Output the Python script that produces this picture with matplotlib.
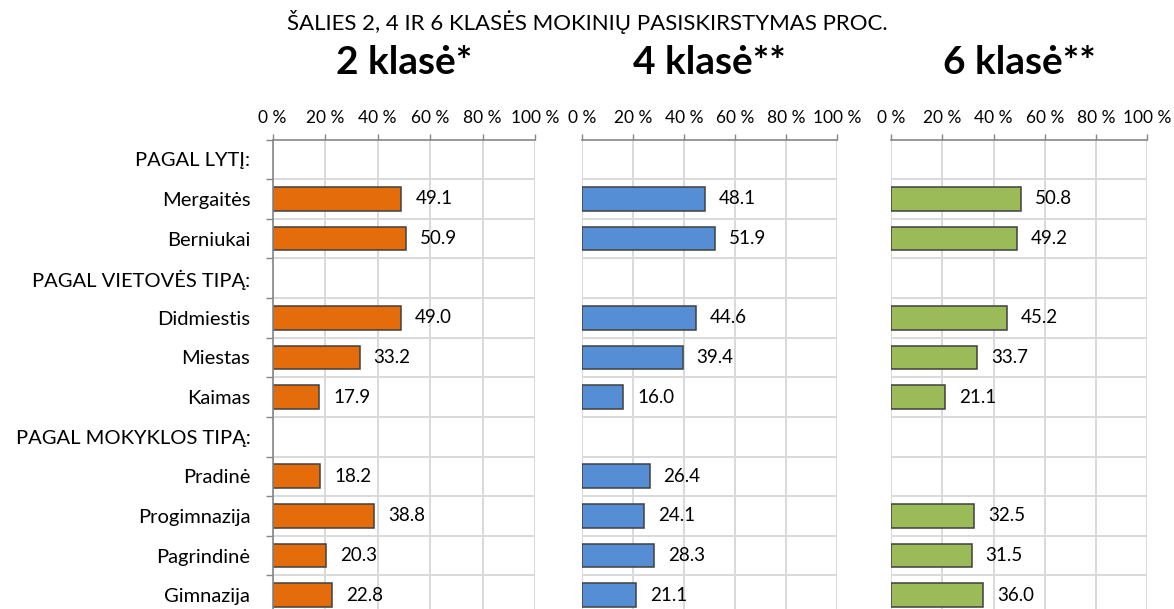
import numpy as np
import matplotlib
matplotlib.use("Agg")
import matplotlib.pyplot as plt

plt.rcParams['font.family'] = ['Lato', 'DejaVu Sans']

categories = ['PAGAL LYTĮ:', 'Mergaitės', 'Berniukai', 'PAGAL VIETOVĖS TIPĄ:',
              'Didmiestis', 'Miestas', 'Kaimas', 'PAGAL MOKYKLOS TIPĄ:',
              'Pradinė', 'Progimnazija', 'Pagrindinė', 'Gimnazija']

nan = np.nan
klase2 = [nan, 49.1, 50.9, nan, 49.0, 33.2, 17.9, nan, 18.2, 38.8, 20.3, 22.8]
klase4 = [nan, 48.1, 51.9, nan, 44.6, 39.4, 16.0, nan, 26.4, 24.1, 28.3, 21.1]
klase6 = [nan, 50.8, 49.2, nan, 45.2, 33.7, 21.1, nan, nan, 32.5, 31.5, 36.0]

panel_titles = ['2 klasė*', '4 klasė**', '6 klasė**']
colors = ['#E46C0A', '#558ED5', '#9BBB59']
xticks = [0, 20, 40, 60, 80, 100]
xticklabels = ['0 %', '20 %', '40 %', '60 %', '80 %', '100 %']

W, H = 1174, 609
fig = plt.figure(figsize=(W / 100, H / 100), dpi=100)

# panel edges in pixels (left, right)
panels = [(272.5, 535), (582.3, 837.2), (891, 1147.3)]
top_px, bot_px = 139.5, 615

fig.text(0.5, 1 - 22 / H, 'ŠALIES 2, 4 IR 6 KLASĖS MOKINIŲ PASISKIRSTYMAS PROC.',
         ha='center', va='center', fontsize=16, color='#000000')

grid_c = '#D9D9D9'
axis_c = '#868686'
y = np.arange(len(categories))
bounds = np.arange(-0.5, len(categories), 1)

for i, (vals, col, ttl) in enumerate(zip([klase2, klase4, klase6], colors, panel_titles)):
    l, r = panels[i]
    ax = fig.add_axes([l / W, 1 - bot_px / H, (r - l) / W, (bot_px - top_px) / H])
    v = np.array(vals, dtype=float)
    ok = ~np.isnan(v)

    # grid drawn by hand so it sits under the bars
    ax.vlines(xticks, -0.5, len(categories) - 0.5, colors=grid_c, linewidth=1.4, zorder=1)
    ax.hlines(bounds[1:], 0, 100, colors=grid_c, linewidth=1.4, zorder=1)

    ax.barh(y[ok], v[ok], height=0.6, color=col, edgecolor='#404040',
            linewidth=1.1, zorder=3)
    for yy, val in zip(y[ok], v[ok]):
        ax.annotate(f'{val:.1f}', (val, yy), xytext=(10, 0), textcoords='offset points',
                    ha='left', va='center', fontsize=13.5, color='#000000')

    ax.set_xlim(0, 100)
    ax.set_ylim(len(categories) - 0.5, -0.5)
    ax.xaxis.tick_top()
    ax.set_xticks(xticks)
    ax.set_xticklabels(xticklabels, fontsize=12.5)
    ax.tick_params(axis='x', length=4, color=axis_c, width=1, pad=6)

    for s in ['right', 'bottom']:
        ax.spines[s].set_visible(False)
    ax.spines['top'].set_color(axis_c)
    ax.spines['top'].set_linewidth(1.2)
    ax.spines['top'].set_zorder(4)

    if i == 0:
        ax.set_yticks(y)
        ax.set_yticklabels(categories, fontsize=14.5)
        ax.set_yticks(bounds, minor=True)
        ax.tick_params(axis='y', which='major', length=0, pad=16)
        ax.tick_params(axis='y', which='minor', length=5, color=axis_c, width=1,
                       labelleft=False)
        ax.spines['left'].set_color(axis_c)
        ax.spines['left'].set_linewidth(1.2)
        ax.spines['left'].set_zorder(4)
    else:
        ax.set_yticks([])
        ax.spines['left'].set_visible(False)

    fig.text((l + r) / 2 / W, 1 - 62 / H, ttl, ha='center', va='center',
             fontsize=28, fontweight='bold', color='#000000')

fig.savefig('out.png', dpi=100)
